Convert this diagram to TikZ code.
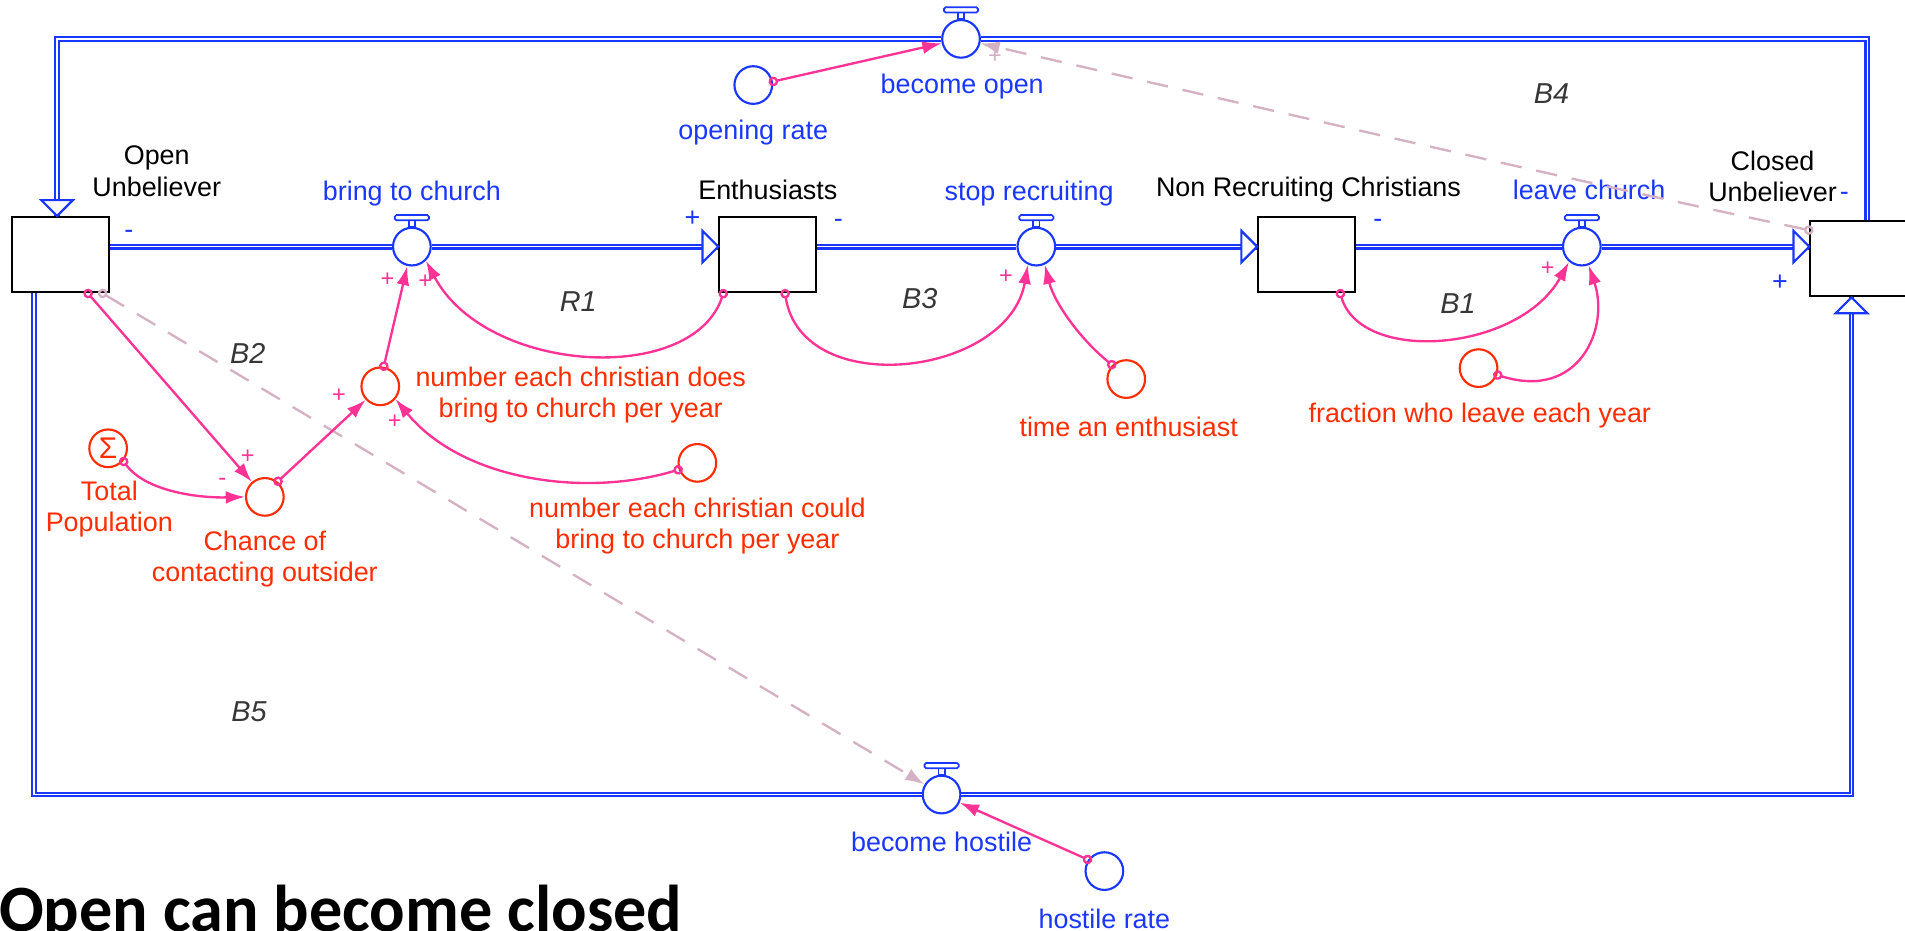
\documentclass[tikz,border=0pt]{standalone}
\usepackage{fontspec}
\setmainfont{Liberation Sans}
\newfontfamily\titelfont{Carlito}
\usetikzlibrary{arrows.meta}
\definecolor{flussblau}{RGB}{25,55,255}
\definecolor{hilfsrot}{RGB}{255,45,0}
\definecolor{linkpink}{RGB}{255,50,150}
\definecolor{linkmauve}{RGB}{212,178,196}
\definecolor{schleifgrau}{RGB}{55,55,55}

\begin{document}
\begin{tikzpicture}[
      x=0.02cm, y=-0.02cm,
      font=\fontsize{12.6}{14.6}\selectfont,
      bestand/.style={draw=black, line width=0.9pt, minimum width=1.6cm, minimum height=1.24cm, inner sep=0pt},
      hilfs/.style={circle, draw=hilfsrot, line width=1pt, minimum size=0.62cm, inner sep=0pt},
      hilfsb/.style={hilfs, draw=flussblau},
      ventil/.style={hilfs, draw=flussblau, fill=white},
      rohr/.style={draw=flussblau, line width=1pt, double=white, double distance=0.7pt},
      rohrspitze/.style={draw=flussblau, fill=white, line width=1pt},
      rottext/.style={text=hilfsrot, align=center},
      blautext/.style={text=flussblau, align=center},
      link/.style={linkpink, line width=1.1pt, shorten <=-2pt, {Circle[open,length=4.5pt,width=4.5pt]}-{Latex[length=9pt,width=6pt]}},
      dlink/.style={link, linkmauve, dash pattern=on 10pt off 7pt},
      zeichen/.style={text=linkpink, font=\fontsize{11}{13}\selectfont, inner sep=0pt},
      fzeichen/.style={text=flussblau, inner sep=0pt},
      schleife/.style={text=schleifgrau, font=\fontsize{13.5}{16}\selectfont\itshape}
    ]
      \useasboundingbox (0,0) rectangle (1568,766);

      \node[bestand] (ou) at (50,209.5) {};
      \node[bestand] (en) at (632,209.5) {};
      \node[bestand] (nr) at (1075.5,209.5) {};
      \node[bestand] (cu) at (1530,213) {};
      \node[align=center] (tou) at (129,141) {Open\\Unbeliever};
      \node (ten) at (632,156) {Enthusiasts};
      \node (tnr) at (1077,156) {Non Recruiting Christians};
      \node[align=center] (tcu) at (1459,145) {Closed\\Unbeliever};

      \node[ventil] (vb) at (339,203) {};
      \node[ventil] (vs) at (853,203) {};
      \node[ventil] (vl) at (1302,203) {};
      \node[ventil] (vo) at (791,32) {};
      \node[ventil] (vh) at (775,654) {};
      \foreach \v in {vb,vs,vl,vo,vh} {
        \draw[flussblau, line width=0.8pt, fill=white] ([xshift=-1.5pt]\v.north) rectangle ([xshift=1.5pt,yshift=3pt]\v.north);
        \draw[flussblau, line width=0.8pt, fill=white, rounded corners=0.8pt] ([xshift=-8pt,yshift=3pt]\v.north) rectangle ([xshift=8pt,yshift=5.5pt]\v.north);
      }
      \node[blautext] (tvb) at (339,159) {bring to church};
      \node[blautext] (tvs) at (847,159) {stop recruiting};
      \node[blautext] (tvl) at (1308,156) {leave church};
      \node[blautext] (tvo) at (792,71) {become open};
      \node[blautext] (tvh) at (775,693) {become hostile};

      \coordinate (ecklo) at (47,32);
      \coordinate (eckro) at (1537,32);
      \coordinate (ecklu) at (28,654);
      \coordinate (eckru) at (1524,654);
      \draw[rohr] (ou.east |- vb) -- (vb.west);
      \draw[rohr] (vb.east) -- (en.west |- vb);
      \draw[rohr] (en.east |- vs) -- (vs.west);
      \draw[rohr] (vs.east) -- (nr.west |- vs);
      \draw[rohr] (nr.east |- vl) -- (vl.west);
      \draw[rohr] (vl.east) -- (cu.west |- vl);
      \draw[rohr] (eckro |- cu.north) -- (eckro) -- (vo.east);
      \draw[rohr] (vo.west) -- (ecklo) -- (ecklo |- ou.north);
      \draw[rohr] (ecklu |- ou.south) -- (ecklu) -- (vh.west);
      \draw[rohr] (vh.east) -- (eckru) -- (eckru |- cu.south);
      \draw[rohrspitze] (en.west |- vb) -- ++(-13,-13) -- ++(0,26) -- cycle;
      \draw[rohrspitze] (nr.west |- vs) -- ++(-13,-13) -- ++(0,26) -- cycle;
      \draw[rohrspitze] (cu.west |- vl) -- ++(-13,-13) -- ++(0,26) -- cycle;
      \draw[rohrspitze] (ecklo |- ou.north) -- ++(-13,-13) -- ++(26,0) -- cycle;
      \draw[rohrspitze] (eckru |- cu.south) -- ++(-13,13) -- ++(26,0) -- cycle;

      \node[fzeichen] (f1) at (106,193) {-};
      \node[fzeichen] (f2) at (570,180) {+};
      \node[fzeichen] (f3) at (690,184) {-};
      \node[fzeichen] (f4) at (1134,184) {-};
      \node[fzeichen] (f5) at (1465,233) {+};
      \node[fzeichen] (f6) at (1518,162) {-};

      \node[hilfsb] (aor) at (620,70) {};
      \node[blautext] (taor) at (620,109) {opening rate};
      \node[hilfsb] (ahr) at (909,717) {};
      \node[blautext] (tahr) at (909,756) {hostile rate};
      \node[hilfs, text=hilfsrot, font=\fontsize{14}{16}\selectfont] (atp) at (89,369) {Σ};
      \node[rottext] (tatp) at (90,419) {Total\\Population};
      \node[hilfs] (acc) at (218,409) {};
      \node[rottext] (tacc) at (218,460) {Chance of\\contacting outsider};
      \node[hilfs] (ado) at (313,318) {};
      \node[rottext] (tado) at (478,325) {number each christian does\\bring to church per year};
      \node[hilfs] (aco) at (574,381) {};
      \node[rottext] (taco) at (574,433) {number each christian could\\bring to church per year};
      \node[hilfs] (ate) at (927,312) {};
      \node[rottext] (tate) at (929,351) {time an enthusiast};
      \node[hilfs] (afr) at (1217,303) {};
      \node[rottext] (tafr) at (1218,342) {fraction who leave each year};

      \draw[dlink] (ou.-43) -- (vh);
      \draw[dlink] (cu.150) .. controls (1300,150) and (1000,80) .. (vo);
      \draw[link] (ou.-55) -- (acc);
      \draw[link] (atp.-40) .. controls (120,405) and (165,410) .. (acc.west);
      \draw[link] (acc.50) -- (ado);
      \draw[link] (ado.80) -- (vb);
      \draw[link] (en.-139) .. controls (570,318) and (400,308) .. (vb.-45);
      \draw[link] (aco.200) .. controls (480,410) and (380,395) .. (ado.-40);
      \draw[link] (en.-66) .. controls (660,330) and (830,310) .. (vs.-115);
      \draw[link] (ate.135) .. controls (890,280) and (868,250) .. (vs.-65);
      \draw[link] (nr.-49) .. controls (1120,300) and (1250,290) .. (vl.-130);
      \draw[link] (afr.-20) .. controls (1300,330) and (1325,270) .. (vl.-70);
      \draw[link] (aor.10) -- (vo);
      \draw[link] (ahr.145) -- (vh);

      \node[zeichen] (p1) at (319,230) {+};
      \node[zeichen] (p2) at (350,232) {+};
      \node[zeichen] (p3) at (828,228) {+};
      \node[zeichen] (p4) at (1274,221) {+};
      \node[zeichen] (p5) at (204,376) {+};
      \node[zeichen] (p6) at (183,397) {-};
      \node[zeichen] (p7) at (279,326) {+};
      \node[zeichen] (p8) at (325,347) {+};
      \node[zeichen, text=linkmauve] (p9) at (819,47) {+};

      \node[schleife] (r1) at (476,248) {R1};
      \node[schleife] (b1) at (1200,250) {B1};
      \node[schleife] (b2) at (204,291) {B2};
      \node[schleife] (b3) at (757,246) {B3};
      \node[schleife] (b4) at (1277,77) {B4};
      \node[schleife] (b5) at (205,586) {B5};

      \node[anchor=base west, inner sep=0pt, font=\titelfont\bfseries\fontsize{31}{36}\selectfont] (titel) at (-1,767) {Open can become closed};
    \end{tikzpicture}
\end{document}
